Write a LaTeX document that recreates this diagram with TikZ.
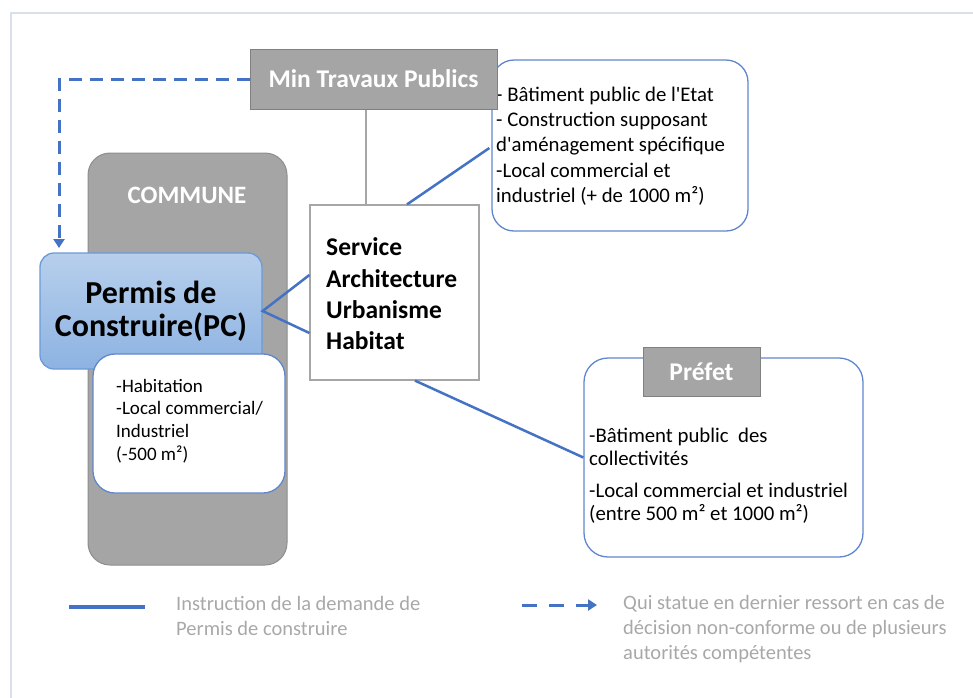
\documentclass[tikz,border=0pt]{standalone}
\usepackage{fontspec}
\setmainfont{Carlito}
\usetikzlibrary{arrows.meta,calc}
\definecolor{blu}{HTML}{4472C4}
\definecolor{gfill}{HTML}{A5A5A5}
\definecolor{gline}{HTML}{808080}
\definecolor{pctop}{HTML}{B7CFEC}
\definecolor{pcbot}{HTML}{8DB3E2}
\definecolor{pcline}{HTML}{6A9BD8}
\definecolor{legtxt}{HTML}{A8A8A8}
\definecolor{frame}{HTML}{D9E0EA}
\tikzset{
  graybox/.style={draw=gline, line width=1pt, fill=gfill, text=white, font=\fontsize{25.5}{30}\selectfont\bfseries, inner sep=0pt},
  bluebox/.style={draw=blu!85!white, line width=1.3pt, fill=white, rounded corners=22pt, inner sep=0pt},
  instr/.style={draw=blu, line width=2.5pt},
  recourse/.style={draw=blu, line width=3pt, dash pattern=on 13pt off 8pt},
  bodytxt/.style={align=left, inner sep=0pt, anchor=west},
  legend/.style={align=left, inner sep=0pt, anchor=west, text=legtxt, font=\fontsize{20.5}{25}\selectfont}
}
\begin{document}
\begin{tikzpicture}[x=1pt,y=-1pt]
\useasboundingbox (0,0) rectangle (973,697);
% frame
\draw[frame, line width=1.5pt] (980,13) -- (11,13) -- (11,705);

% Upper-right box
\node[bluebox, minimum width=256pt, minimum height=171pt] (UR) at (620,145.5) {};
\node[bodytxt, font=\fontsize{20.8}{25.25}\selectfont] (URt) at (496,146) {- Bâtiment public de l\textquotesingle Etat\\- Construction supposant\\d\textquotesingle aménagement spécifique\\-Local commercial et\\industriel (+ de 1000 m²)};

% Min Travaux Publics
\node[graybox, minimum width=247pt, minimum height=60pt] (MTP) at (373.5,79) {Min Travaux Publics};

% Commune
\node[draw=gline!90, line width=1pt, fill=gfill, rounded corners=22pt, minimum width=199pt, minimum height=412pt] (COM) at (187.5,359) {};
\node[text=white, font=\fontsize{25}{30}\selectfont\bfseries, inner sep=0pt] (COMt) at (187,195) {COMMUNE};

% Permis de construire
\node[draw=pcline, line width=1.3pt, top color=pctop, bottom color=pcbot, rounded corners=14pt, minimum width=222pt, minimum height=116pt, align=center, font=\fontsize{32}{33}\selectfont\bfseries, inner sep=0pt] (PC) at (151,311) {Permis de\\Construire(PC)};

% inner white box
\node[bluebox, minimum width=192pt, minimum height=139pt] (PCin) at (189,423.5) {};
\node[bodytxt, font=\fontsize{19}{22.7}\selectfont] (PCint) at (116,421) {-Habitation\\-Local commercial/\\Industriel\\(-500 m²)};

% Service box
\node[draw=gray!70, line width=1.2pt, fill=white, minimum width=169pt, minimum height=175pt] (SV) at (394.5,292.5) {};
\node[bodytxt, font=\fontsize{25.5}{31.3}\selectfont\bfseries] (SVt) at (326,294) {Service\\Architecture\\Urbanisme\\Habitat};

% Prefet box
\node[bluebox, rounded corners=24pt, minimum width=279pt, minimum height=199pt] (PF) at (723.5,457.5) {};
\node[graybox, minimum width=117pt, minimum height=49pt] (PFl) at (701.5,371.5) {Préfet};
\node[bodytxt, font=\fontsize{20.8}{23}\selectfont] (PFt) at (589,476) {-Bâtiment public\ \ des\\collectivités\\[9pt]-Local commercial et industriel\\(entre 500 m² et 1000 m²)};

% connectors
\coordinate (d1) at (59,79);
\coordinate (d2) at (59,248);
\draw[recourse, -{Triangle[length=9pt,width=11pt]}] (MTP.west) -- (d1) -- (d2);
\draw[gray!70, line width=1.2pt] ($(MTP.south)+(-7.5,0)$) -- ($(SV.north)+(-28.5,0)$);
\draw[instr] ($(SV.west)+(0,-17.5)$) -- (PC.east) -- ($(SV.west)+(0,40.5)$);
\draw[instr] ($(SV.north)+(12.5,0)$) -- ($(UR.west)+(-2,2.5)$);
\draw[instr] ($(SV.south)+(20.5,0)$) -- (PF.west);

% legend
\coordinate (l1) at (69,607);
\coordinate (l2) at (145,607);
\draw[blu, line width=4.5pt] (l1) -- (l2);
\node[legend] (lt1) at (176,616) {Instruction de la demande de\\Permis de construire};
\coordinate (l3) at (522,605);
\coordinate (l4) at (597,605);
\draw[blu, line width=3pt, dash pattern=on 15pt off 12pt, -{Triangle[length=9pt,width=11pt]}] (l3) -- (l4);
\node[legend] (lt2) at (623,629.5) {Qui statue en dernier ressort en cas de\\décision non-conforme ou de plusieurs\\autorités compétentes};
\end{tikzpicture}
\end{document}
